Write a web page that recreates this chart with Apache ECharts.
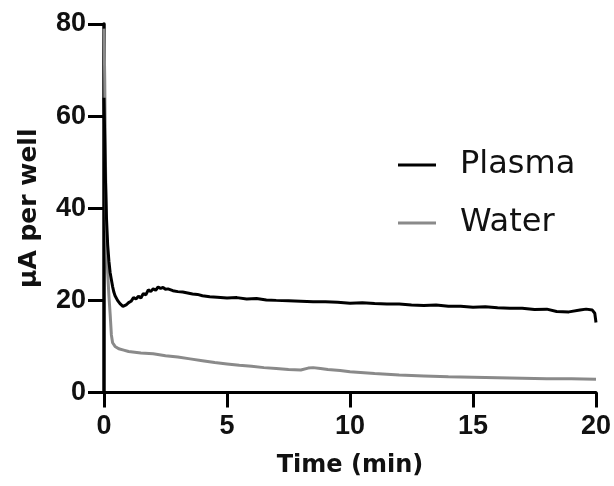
<!DOCTYPE html>
<html>
<head>
<meta charset="utf-8">
<script src="https://cdn.jsdelivr.net/npm/echarts@6/dist/echarts.min.js"></script>
<style>html,body{margin:0;padding:0;background:#fff}#c{width:614px;height:486px}</style>
</head>
<body>
<div id="c"></div>
<script>
var xTicks = [0, 5, 10, 15, 20];
var yTicks = [0, 20, 40, 60, 80];
var seriesNames = ['Plasma', 'Water'];

var plasmaT = [0, 0.03, 0.06, 0.1, 0.15, 0.2, 0.25, 0.3, 0.35, 0.4, 0.45, 0.55, 0.65, 0.77, 0.9, 1.0, 1.1, 1.2, 1.3, 1.4, 1.5, 1.6, 1.7, 1.8, 1.9, 2.0, 2.1, 2.2, 2.3, 2.4, 2.5, 2.6, 2.8, 3.0, 3.2, 3.4, 3.6, 3.8, 4.0, 4.3, 4.6, 5.0, 5.4, 5.8, 6.2, 6.6, 7.0, 7.5, 8.0, 8.5, 9.0, 9.5, 10.0, 10.5, 11.0, 11.5, 12.0, 12.5, 13.0, 13.5, 14.0, 14.5, 15.0, 15.5, 16.0, 16.5, 17.0, 17.5, 18.0, 18.4, 18.9, 19.35, 19.6, 19.85, 19.95, 20.0];
var plasmaV = [64, 55, 46, 38, 32, 28.5, 26, 24.5, 23, 21.8, 21, 20, 19.3, 18.7, 19.0, 19.5, 19.8, 20.6, 20.3, 20.9, 20.5, 21.5, 21.2, 22.3, 21.9, 22.5, 22.2, 22.9, 22.6, 22.8, 22.4, 22.5, 22.1, 21.9, 21.8, 21.6, 21.4, 21.3, 21.0, 20.8, 20.7, 20.5, 20.6, 20.3, 20.4, 20.1, 20.0, 19.9, 19.8, 19.7, 19.7, 19.6, 19.4, 19.5, 19.3, 19.2, 19.2, 19.0, 18.9, 19.0, 18.7, 18.7, 18.5, 18.6, 18.4, 18.3, 18.3, 18.0, 18.1, 17.6, 17.5, 17.9, 18.1, 17.9, 17.2, 15.2];

var waterT = [0, 0.03, 0.06, 0.1, 0.15, 0.2, 0.25, 0.3, 0.35, 0.45, 0.6, 0.8, 1.0, 1.5, 2.0, 2.5, 3.0, 3.5, 4.0, 4.5, 5.0, 5.5, 6.0, 6.5, 7.0, 7.5, 8.0, 8.3, 8.5, 8.8, 9.1, 9.6, 10, 11, 12, 13, 14, 15, 16, 17, 18, 19, 20];
var waterV = [79, 68, 50, 35, 26, 21, 17, 12.5, 10.8, 10.0, 9.5, 9.2, 8.9, 8.6, 8.4, 8.0, 7.7, 7.3, 6.9, 6.5, 6.2, 5.9, 5.7, 5.4, 5.2, 5.0, 4.9, 5.3, 5.4, 5.2, 5.0, 4.8, 4.5, 4.1, 3.8, 3.6, 3.4, 3.3, 3.2, 3.1, 3.0, 3.0, 2.9];

function pairs(t, v) { return t.map(function (x, i) { return [x, v[i]]; }); }

var TICKFONT = '"Liberation Sans", Arial, sans-serif';
var FONT = '"DejaVu Sans", sans-serif';
var chart = echarts.init(document.getElementById('c'), null, { renderer: 'canvas' });
chart.setOption({
  animation: false,
  backgroundColor: '#fff',
  grid: { left: 104, right: 18, top: 24, bottom: 93.5, containLabel: false, outerBoundsMode: 'none' },
  legend: {
    orient: 'vertical', left: 393, top: 144,
    itemWidth: 38, itemHeight: 3, itemGap: 26,
    icon: 'rect',
    data: seriesNames,
    textStyle: { fontFamily: FONT, fontSize: 32, color: '#111', padding: [0, 0, 0, 19] }
  },
  xAxis: {
    type: 'value', min: xTicks[0], max: xTicks[xTicks.length - 1], interval: 5,
    name: 'Time (min)', nameLocation: 'middle', nameGap: 61,
    nameTextStyle: { fontFamily: FONT, fontSize: 24, fontWeight: 'bold', color: '#111' },
    axisLine: { show: true, onZero: false, lineStyle: { color: '#000', width: 3 } },
    axisTick: { show: true, inside: false, length: 15, lineStyle: { color: '#000', width: 3 } },
    axisLabel: { fontFamily: TICKFONT, fontSize: 27, fontWeight: 'bold', color: '#111', margin: 21 },
    splitLine: { show: false }
  },
  yAxis: {
    type: 'value', min: yTicks[0], max: yTicks[yTicks.length - 1], interval: 20,
    name: 'µA per well', nameLocation: 'middle', nameGap: 62, nameRotate: 90,
    nameTextStyle: { fontFamily: FONT, fontSize: 25, fontWeight: 'bold', color: '#111' },
    axisLine: { show: true, onZero: false, lineStyle: { color: '#000', width: 3.5 } },
    axisTick: { show: true, inside: false, length: 16, lineStyle: { color: '#000', width: 3 } },
    axisLabel: { fontFamily: TICKFONT, fontSize: 27, fontWeight: 'bold', color: '#111', margin: 18 },
    splitLine: { show: false }
  },
  series: [
    { name: 'Water', type: 'line', data: pairs(waterT, waterV), showSymbol: false, symbol: 'none',
      color: '#8a8a8a', lineStyle: { color: '#8a8a8a', width: 3 }, z: 2 },
    { name: 'Plasma', type: 'line', data: pairs(plasmaT, plasmaV), showSymbol: false, symbol: 'none',
      color: '#000', lineStyle: { color: '#000', width: 3 }, z: 3 }
  ]
});
</script>
</body>
</html>
